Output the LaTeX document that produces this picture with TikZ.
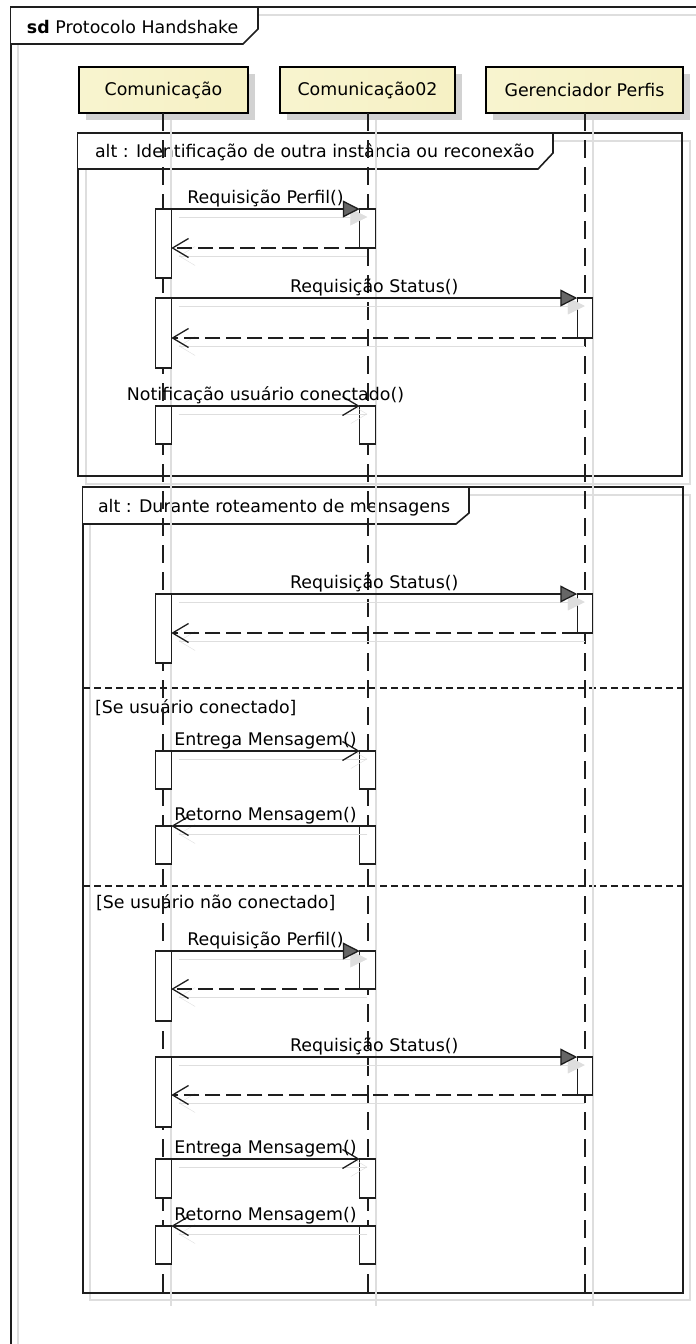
\documentclass[tikz,border=0pt]{standalone}
\usepackage{fontspec}
\setmainfont{DejaVu Sans}
\usetikzlibrary{arrows.meta}

\definecolor{ink}{HTML}{1E1E1E}
\definecolor{shd}{HTML}{DEDEDE}
\definecolor{boxshd}{HTML}{D2D2D2}
\definecolor{hdA}{HTML}{F8F4CF}
\definecolor{hdB}{HTML}{FDFCF1}
\definecolor{hdC}{HTML}{F6F1C4}

\tikzset{
  every node/.style={font=\fontsize{17.4}{20}\selectfont, inner sep=0pt, outer sep=0pt},
  head/.style={draw=black, line width=2.6pt, minimum height=46pt,
    left color=hdA, middle color=hdB, right color=hdC},
  lifeline/.style={draw=ink, line width=1.8pt, dash pattern=on 18pt off 9pt},
  lifeshadow/.style={draw=shd, line width=1.3pt},
  framebox/.style={draw=ink, line width=1.6pt},
  frameshadow/.style={draw=shd, line width=1.3pt},
  act/.style={draw=ink, fill=white, line width=1.3pt, minimum width=15.5pt},
  msg/.style={draw=ink, line width=1.3pt},
  retmsg/.style={msg, dash pattern=on 15pt off 6pt},
  sepline/.style={draw=ink, line width=1.2pt, dash pattern=on 7pt off 4pt},
  synctip/.style={-{Triangle[length=17pt,width=17pt,fill=#1]}},
  opentip/.style={-{Straight Barb[length=16pt,width=19pt]}},
  shadowed/.style={draw=shd, transform canvas={shift={(7.5pt,-8pt)}}},
  lbl/.style={midway, anchor=base, yshift=6pt},
}

% activation bar: name, x, top y, bottom y
\newcommand\actbar[4]{\node[act, minimum height={(#4)-(#3)}] (#1) at (#2,{((#3)+(#4))/2}) {};}
% message with its soft shadow: style, shadow style, from, to, label
\newcommand\sendmsg[5]{%
  \draw[#2, shadowed] #3 -- #4;
  \draw[#1] #3 -- node[lbl]{#5} #4;}

\begin{document}
\begin{tikzpicture}[x=1pt, y=-1pt]
\useasboundingbox (0,0) rectangle (696,1344);
\clip (0,0) rectangle (696,1344);

% ---- shadows of frames and lifeline heads
\draw[frameshadow] (18,1360) -- (18,15) -- (710,15);
\draw[frameshadow] (86,141) rectangle (690,484);
\draw[frameshadow] (90,495) rectangle (690,1300);
\fill[boxshd] (86,74) rectangle (255,120);
\fill[boxshd] (287,74) rectangle (462,120);
\fill[boxshd] (493,74) rectangle (690,120);

% ---- outer sd frame
\draw[framebox] (11,1360) -- (11,7) -- (710,7);
\draw[framebox, fill=white] (11,7) -- (258,7) -- (258,29) -- (243,44) -- (11,44);
\node[anchor=base west] (sdlabel) at (27,33) {\textbf{sd} Protocolo Handshake};

% ---- lifeline heads
\node[head, minimum width=169pt] (c1) at (163.5,90) {Comunicação};
\node[head, minimum width=175pt] (c2) at (367.5,90) {Comunicação02};
\node[head, minimum width=197pt] (gp) at (584.5,90) {Gerenciador Perfis};

% ---- combined fragments
\draw[framebox] (78,133) rectangle (682,476);
\draw[framebox, fill=white] (78,133) -- (553,133) -- (553,153) -- (538,169) -- (78,169);
\node[anchor=base west] (alt1) at (95,157) {alt : Identificação de outra instância ou reconexão};

\draw[framebox] (83,487) rectangle (683,1293);
\draw[framebox, fill=white] (83,487) -- (469,487) -- (469,513) -- (456,524) -- (83,524);
\node[anchor=base west] (alt2) at (98,512) {alt : Durante roteamento de mensagens};
\draw[sepline] (83,688) -- (683,688);
\node[anchor=base west] (guard1) at (95,713) {[Se usuário conectado]};
\draw[sepline] (83,886) -- (683,886);
\node[anchor=base west] (guard2) at (96,908) {[Se usuário não conectado]};

% ---- lifelines
\coordinate (s1) at (163,113);
\coordinate (s2) at (368,113);
\coordinate (s3) at (585,113);
\coordinate (e1) at (163,1299);
\coordinate (e2) at (368,1299);
\coordinate (e3) at (585,1299);
\draw[lifeshadow] ([shift={(8pt,-7pt)}]s1) -- ([shift={(8pt,-7pt)}]e1);
\draw[lifeshadow] ([shift={(8pt,-7pt)}]s2) -- ([shift={(8pt,-7pt)}]e2);
\draw[lifeshadow] ([shift={(8pt,-7pt)}]s3) -- ([shift={(8pt,-7pt)}]e3);
\draw[lifeline] (c1.south -| s1) -- (e1);
\draw[lifeline] (c2.south -| s2) -- (e2);
\draw[lifeline] (gp.south -| s3) -- (e3);

% ---- activation bars
\actbar{A1}{163.5}{209}{278}
\actbar{B1}{367.5}{209}{248}
\actbar{A2}{163.5}{298}{368}
\actbar{G1}{585}{298}{338}
\actbar{A3}{163.5}{406}{444}
\actbar{B2}{367.5}{406}{444}
\actbar{A4}{163.5}{594}{663}
\actbar{G2}{585}{594}{633}
\actbar{A5}{163.5}{751}{789}
\actbar{B3}{367.5}{751}{789}
\actbar{A6}{163.5}{826}{864}
\actbar{B4}{367.5}{826}{864}
\actbar{A7}{163.5}{951}{1021}
\actbar{B5}{367.5}{951}{989}
\actbar{A8}{163.5}{1057}{1127}
\actbar{G3}{585}{1057}{1095}
\actbar{A9}{163.5}{1159}{1198}
\actbar{B6}{367.5}{1159}{1198}
\actbar{A10}{163.5}{1226}{1264}
\actbar{B7}{367.5}{1226}{1264}

% ---- messages: first fragment
\sendmsg{msg, synctip=black!60}{synctip=shd}{(A1.north east)}{(B1.north west)}{Requisição Perfil()}
\sendmsg{retmsg, opentip}{opentip}{(B1.south west)}{(A1.east |- B1.south west)}{}
\sendmsg{msg, synctip=black!60}{synctip=shd}{(A2.north east)}{(G1.north west)}{Requisição Status()}
\sendmsg{retmsg, opentip}{opentip}{(G1.south west)}{(A2.east |- G1.south west)}{}
\sendmsg{msg, opentip}{opentip}{(A3.north east)}{(B2.north west)}{Notificação usuário conectado()}

% ---- messages: second fragment
\sendmsg{msg, synctip=black!60}{synctip=shd}{(A4.north east)}{(G2.north west)}{Requisição Status()}
\sendmsg{retmsg, opentip}{opentip}{(G2.south west)}{(A4.east |- G2.south west)}{}
\sendmsg{msg, opentip}{opentip}{(A5.north east)}{(B3.north west)}{Entrega Mensagem()}
\sendmsg{msg, opentip}{opentip}{(B4.north west)}{(A6.north east)}{Retorno Mensagem()}
\sendmsg{msg, synctip=black!60}{synctip=shd}{(A7.north east)}{(B5.north west)}{Requisição Perfil()}
\sendmsg{retmsg, opentip}{opentip}{(B5.south west)}{(A7.east |- B5.south west)}{}
\sendmsg{msg, synctip=black!60}{synctip=shd}{(A8.north east)}{(G3.north west)}{Requisição Status()}
\sendmsg{retmsg, opentip}{opentip}{(G3.south west)}{(A8.east |- G3.south west)}{}
\sendmsg{msg, opentip}{opentip}{(A9.north east)}{(B6.north west)}{Entrega Mensagem()}
\sendmsg{msg, opentip}{opentip}{(B7.north west)}{(A10.north east)}{Retorno Mensagem()}

\end{tikzpicture}
\end{document}
